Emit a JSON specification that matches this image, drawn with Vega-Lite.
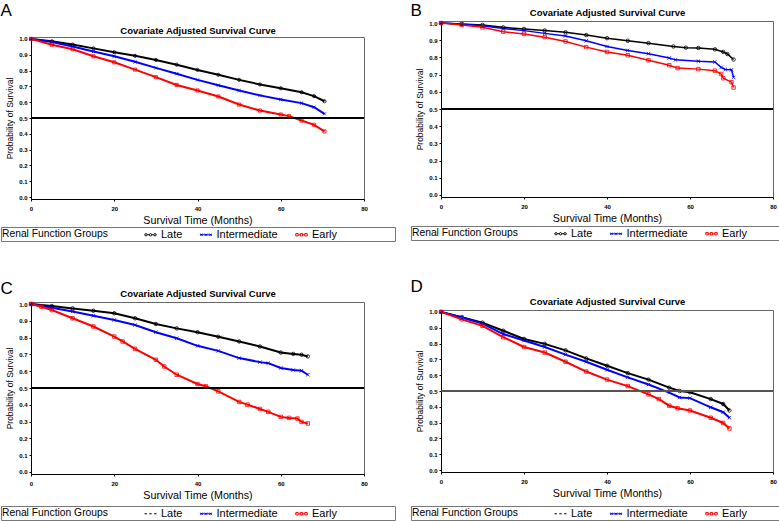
{
"$schema": "https://vega.github.io/schema/vega-lite/v6.json",
"padding": 0,
"background": "white",
"config": {
  "font": "Liberation Sans",
  "view": {"stroke": "#666"},
  "axis": {"labelFontSize": 6, "labelFontWeight": "bold", "tickSize": 2, "labelPadding": 2, "titleFontWeight": "normal", "grid": false, "domainColor": "#000", "tickColor": "#000", "labelFlush": false, "labelColor": "#000", "titleColor": "#000", "labelOverlap": false},
  "axisX": {"titleFontSize": 10.7, "labelPadding": 4},
  "axisY": {"titleFontSize": 8.5},
  "legend": {"orient": "none", "direction": "horizontal", "titleOrient": "left", "titleFontSize": 10.3, "titleFontWeight": "normal", "labelFontSize": 11, "padding": 1, "strokeColor": "#777", "fillColor": "#fff", "symbolSize": 144, "symbolStrokeWidth": 1, "symbolOpacity": 1, "columnPadding": 14.5, "titlePadding": 36, "labelOffset": 4, "titleColor": "#000", "labelColor": "#000"},
  "title": {"fontSize": 17, "fontWeight": "normal", "anchor": "start", "color": "#000"}
},
"datasets": {"surv": [
{"p":"A","g":"Late","t":0,"s":1},{"p":"A","g":"Late","t":5,"s":0.985},{"p":"A","g":"Late","t":10,"s":0.964},{"p":"A","g":"Late","t":15,"s":0.94},{"p":"A","g":"Late","t":20,"s":0.916},{"p":"A","g":"Late","t":25,"s":0.893},{"p":"A","g":"Late","t":30,"s":0.867},{"p":"A","g":"Late","t":35,"s":0.837},{"p":"A","g":"Late","t":40,"s":0.804},{"p":"A","g":"Late","t":45,"s":0.773},{"p":"A","g":"Late","t":50,"s":0.741},{"p":"A","g":"Late","t":55,"s":0.712},{"p":"A","g":"Late","t":60,"s":0.688},{"p":"A","g":"Late","t":65,"s":0.663},{"p":"A","g":"Late","t":68,"s":0.638},{"p":"A","g":"Late","t":70.5,"s":0.606},
{"p":"A","g":"Intermediate","t":0,"s":1},{"p":"A","g":"Intermediate","t":5,"s":0.98},{"p":"A","g":"Intermediate","t":10,"s":0.952},{"p":"A","g":"Intermediate","t":15,"s":0.92},{"p":"A","g":"Intermediate","t":20,"s":0.89},{"p":"A","g":"Intermediate","t":25,"s":0.855},{"p":"A","g":"Intermediate","t":30,"s":0.817},{"p":"A","g":"Intermediate","t":35,"s":0.78},{"p":"A","g":"Intermediate","t":40,"s":0.741},{"p":"A","g":"Intermediate","t":45,"s":0.707},{"p":"A","g":"Intermediate","t":50,"s":0.674},{"p":"A","g":"Intermediate","t":55,"s":0.643},{"p":"A","g":"Intermediate","t":60,"s":0.617},{"p":"A","g":"Intermediate","t":65,"s":0.594},{"p":"A","g":"Intermediate","t":68,"s":0.568},{"p":"A","g":"Intermediate","t":70.5,"s":0.526},
{"p":"A","g":"Early","t":0,"s":1},{"p":"A","g":"Early","t":5,"s":0.963},{"p":"A","g":"Early","t":10,"s":0.935},{"p":"A","g":"Early","t":15,"s":0.89},{"p":"A","g":"Early","t":20,"s":0.852},{"p":"A","g":"Early","t":25,"s":0.806},{"p":"A","g":"Early","t":30,"s":0.758},{"p":"A","g":"Early","t":35,"s":0.709},{"p":"A","g":"Early","t":40,"s":0.674},{"p":"A","g":"Early","t":45,"s":0.636},{"p":"A","g":"Early","t":50,"s":0.585},{"p":"A","g":"Early","t":55,"s":0.547},{"p":"A","g":"Early","t":60,"s":0.522},{"p":"A","g":"Early","t":62,"s":0.512},{"p":"A","g":"Early","t":65,"s":0.484},{"p":"A","g":"Early","t":68,"s":0.457},{"p":"A","g":"Early","t":70.5,"s":0.415},
{"p":"B","g":"Late","t":0,"s":1},{"p":"B","g":"Late","t":5,"s":0.995},{"p":"B","g":"Late","t":10,"s":0.989},{"p":"B","g":"Late","t":15,"s":0.975},{"p":"B","g":"Late","t":20,"s":0.966},{"p":"B","g":"Late","t":25,"s":0.957},{"p":"B","g":"Late","t":30,"s":0.946},{"p":"B","g":"Late","t":35,"s":0.93},{"p":"B","g":"Late","t":40,"s":0.912},{"p":"B","g":"Late","t":45,"s":0.897},{"p":"B","g":"Late","t":50,"s":0.883},{"p":"B","g":"Late","t":56,"s":0.864},{"p":"B","g":"Late","t":59,"s":0.857},{"p":"B","g":"Late","t":62,"s":0.855},{"p":"B","g":"Late","t":66,"s":0.847},{"p":"B","g":"Late","t":68,"s":0.832},{"p":"B","g":"Late","t":69,"s":0.82},{"p":"B","g":"Late","t":70.5,"s":0.788},
{"p":"B","g":"Intermediate","t":0,"s":1},{"p":"B","g":"Intermediate","t":5,"s":0.993},{"p":"B","g":"Intermediate","t":10,"s":0.985},{"p":"B","g":"Intermediate","t":15,"s":0.968},{"p":"B","g":"Intermediate","t":20,"s":0.956},{"p":"B","g":"Intermediate","t":25,"s":0.94},{"p":"B","g":"Intermediate","t":30,"s":0.925},{"p":"B","g":"Intermediate","t":35,"s":0.897},{"p":"B","g":"Intermediate","t":40,"s":0.864},{"p":"B","g":"Intermediate","t":45,"s":0.841},{"p":"B","g":"Intermediate","t":50,"s":0.822},{"p":"B","g":"Intermediate","t":55,"s":0.797},{"p":"B","g":"Intermediate","t":56.5,"s":0.786},{"p":"B","g":"Intermediate","t":62,"s":0.778},{"p":"B","g":"Intermediate","t":66,"s":0.774},{"p":"B","g":"Intermediate","t":67.5,"s":0.742},{"p":"B","g":"Intermediate","t":68.5,"s":0.73},{"p":"B","g":"Intermediate","t":70,"s":0.728},{"p":"B","g":"Intermediate","t":70.5,"s":0.684},
{"p":"B","g":"Early","t":0,"s":1},{"p":"B","g":"Early","t":5,"s":0.989},{"p":"B","g":"Early","t":10,"s":0.975},{"p":"B","g":"Early","t":15,"s":0.95},{"p":"B","g":"Early","t":20,"s":0.937},{"p":"B","g":"Early","t":25,"s":0.918},{"p":"B","g":"Early","t":30,"s":0.893},{"p":"B","g":"Early","t":35,"s":0.86},{"p":"B","g":"Early","t":40,"s":0.832},{"p":"B","g":"Early","t":45,"s":0.813},{"p":"B","g":"Early","t":50,"s":0.784},{"p":"B","g":"Early","t":55,"s":0.755},{"p":"B","g":"Early","t":57,"s":0.738},{"p":"B","g":"Early","t":62,"s":0.732},{"p":"B","g":"Early","t":66,"s":0.723},{"p":"B","g":"Early","t":67.5,"s":0.704},{"p":"B","g":"Early","t":68,"s":0.679},{"p":"B","g":"Early","t":70,"s":0.656},{"p":"B","g":"Early","t":70.5,"s":0.625},
{"p":"C","g":"Late","t":0,"s":1},{"p":"C","g":"Late","t":5,"s":0.988},{"p":"C","g":"Late","t":10,"s":0.974},{"p":"C","g":"Late","t":15,"s":0.96},{"p":"C","g":"Late","t":20,"s":0.945},{"p":"C","g":"Late","t":25,"s":0.915},{"p":"C","g":"Late","t":30,"s":0.881},{"p":"C","g":"Late","t":35,"s":0.855},{"p":"C","g":"Late","t":40,"s":0.832},{"p":"C","g":"Late","t":45,"s":0.805},{"p":"C","g":"Late","t":50,"s":0.777},{"p":"C","g":"Late","t":55,"s":0.747},{"p":"C","g":"Late","t":60,"s":0.711},{"p":"C","g":"Late","t":63,"s":0.703},{"p":"C","g":"Late","t":65,"s":0.698},{"p":"C","g":"Late","t":66.5,"s":0.688},
{"p":"C","g":"Intermediate","t":0,"s":1},{"p":"C","g":"Intermediate","t":5,"s":0.978},{"p":"C","g":"Intermediate","t":10,"s":0.955},{"p":"C","g":"Intermediate","t":15,"s":0.93},{"p":"C","g":"Intermediate","t":20,"s":0.905},{"p":"C","g":"Intermediate","t":25,"s":0.875},{"p":"C","g":"Intermediate","t":30,"s":0.832},{"p":"C","g":"Intermediate","t":35,"s":0.796},{"p":"C","g":"Intermediate","t":40,"s":0.751},{"p":"C","g":"Intermediate","t":45,"s":0.721},{"p":"C","g":"Intermediate","t":50,"s":0.678},{"p":"C","g":"Intermediate","t":55,"s":0.654},{"p":"C","g":"Intermediate","t":57,"s":0.648},{"p":"C","g":"Intermediate","t":60,"s":0.619},{"p":"C","g":"Intermediate","t":63,"s":0.607},{"p":"C","g":"Intermediate","t":65,"s":0.603},{"p":"C","g":"Intermediate","t":66.5,"s":0.579},
{"p":"C","g":"Early","t":0,"s":1},{"p":"C","g":"Early","t":2.5,"s":0.984},{"p":"C","g":"Early","t":5,"s":0.964},{"p":"C","g":"Early","t":10,"s":0.915},{"p":"C","g":"Early","t":15,"s":0.866},{"p":"C","g":"Early","t":20,"s":0.806},{"p":"C","g":"Early","t":22,"s":0.777},{"p":"C","g":"Early","t":25,"s":0.733},{"p":"C","g":"Early","t":30,"s":0.668},{"p":"C","g":"Early","t":32,"s":0.628},{"p":"C","g":"Early","t":35,"s":0.579},{"p":"C","g":"Early","t":40,"s":0.524},{"p":"C","g":"Early","t":42,"s":0.51},{"p":"C","g":"Early","t":45,"s":0.48},{"p":"C","g":"Early","t":50,"s":0.417},{"p":"C","g":"Early","t":52,"s":0.401},{"p":"C","g":"Early","t":55,"s":0.375},{"p":"C","g":"Early","t":57,"s":0.358},{"p":"C","g":"Early","t":60,"s":0.328},{"p":"C","g":"Early","t":62,"s":0.322},{"p":"C","g":"Early","t":64,"s":0.318},{"p":"C","g":"Early","t":65,"s":0.298},{"p":"C","g":"Early","t":66.5,"s":0.289},
{"p":"D","g":"Late","t":0,"s":1},{"p":"D","g":"Late","t":5,"s":0.967},{"p":"D","g":"Late","t":10,"s":0.932},{"p":"D","g":"Late","t":15,"s":0.881},{"p":"D","g":"Late","t":20,"s":0.829},{"p":"D","g":"Late","t":25,"s":0.798},{"p":"D","g":"Late","t":30,"s":0.757},{"p":"D","g":"Late","t":35,"s":0.706},{"p":"D","g":"Late","t":40,"s":0.66},{"p":"D","g":"Late","t":45,"s":0.613},{"p":"D","g":"Late","t":50,"s":0.572},{"p":"D","g":"Late","t":55,"s":0.521},{"p":"D","g":"Late","t":57.5,"s":0.5},{"p":"D","g":"Late","t":60,"s":0.492},{"p":"D","g":"Late","t":65,"s":0.449},{"p":"D","g":"Late","t":68,"s":0.418},{"p":"D","g":"Late","t":69.5,"s":0.377},
{"p":"D","g":"Intermediate","t":0,"s":1},{"p":"D","g":"Intermediate","t":5,"s":0.965},{"p":"D","g":"Intermediate","t":10,"s":0.926},{"p":"D","g":"Intermediate","t":15,"s":0.86},{"p":"D","g":"Intermediate","t":20,"s":0.819},{"p":"D","g":"Intermediate","t":25,"s":0.778},{"p":"D","g":"Intermediate","t":30,"s":0.73},{"p":"D","g":"Intermediate","t":35,"s":0.685},{"p":"D","g":"Intermediate","t":40,"s":0.634},{"p":"D","g":"Intermediate","t":45,"s":0.586},{"p":"D","g":"Intermediate","t":50,"s":0.541},{"p":"D","g":"Intermediate","t":55,"s":0.49},{"p":"D","g":"Intermediate","t":57.5,"s":0.459},{"p":"D","g":"Intermediate","t":60,"s":0.455},{"p":"D","g":"Intermediate","t":65,"s":0.397},{"p":"D","g":"Intermediate","t":68,"s":0.366},{"p":"D","g":"Intermediate","t":69.5,"s":0.331},
{"p":"D","g":"Early","t":0,"s":1},{"p":"D","g":"Early","t":5,"s":0.953},{"p":"D","g":"Early","t":10,"s":0.912},{"p":"D","g":"Early","t":15,"s":0.84},{"p":"D","g":"Early","t":20,"s":0.778},{"p":"D","g":"Early","t":25,"s":0.743},{"p":"D","g":"Early","t":30,"s":0.685},{"p":"D","g":"Early","t":35,"s":0.623},{"p":"D","g":"Early","t":40,"s":0.572},{"p":"D","g":"Early","t":45,"s":0.531},{"p":"D","g":"Early","t":50,"s":0.479},{"p":"D","g":"Early","t":52.5,"s":0.449},{"p":"D","g":"Early","t":55,"s":0.407},{"p":"D","g":"Early","t":57,"s":0.391},{"p":"D","g":"Early","t":60,"s":0.377},{"p":"D","g":"Early","t":65,"s":0.331},{"p":"D","g":"Early","t":68,"s":0.298},{"p":"D","g":"Early","t":69.5,"s":0.263}
]},
"spacing": 14,
"resolve": {"scale": {"color": "independent", "shape": "independent"}, "legend": {"color": "independent", "shape": "independent"}},
"hconcat": [
 {"spacing": 0, "resolve": {"scale": {"color": "independent", "shape": "independent"}, "legend": {"color": "independent", "shape": "independent"}},
  "vconcat": [
  {"width": 1, "height": 1, "data": {"values": []}, "mark": {"type": "point", "opacity": 0}},
  {"vconcat": [
  {"title": {"text": "A", "offset": 5.5},
   "width": 333, "height": 162,
   "data": {"name": "surv"},
   "transform": [{"filter": "datum.p === 'A'"}],
   "resolve": {"axis": {"x": "independent"}, "scale": {"shape": "independent", "color": "independent"}},
   "layer": [
    {"mark": {"type": "line", "strokeWidth": 2},
     "encoding": {
      "x": {"field": "t", "type": "quantitative", "scale": {"domain": [0, 80], "nice": false}, "axis": {"orient": "bottom", "values": [0, 20, 40, 60, 80], "format": "d", "title": "Survival Time (Months)", "titlePadding": 4, "labelOverlap": false}},
      "y": {"field": "s", "type": "quantitative", "scale": {"domain": [-0.012, 1.012], "nice": false, "zero": false}, "axis": {"values": [0, 0.1, 0.2, 0.3, 0.4, 0.5, 0.6, 0.7, 0.8, 0.9, 1], "tickCount": 11, "format": ".1f", "title": "Probability of Survival", "titlePadding": 4, "labelOverlap": false}},
      "color": {"field": "g", "type": "nominal", "sort": null, "legend": null, "scale": {"domain": ["Late", "Intermediate", "Early"], "range": ["#000000", "#0000ff", "#ff0000"]}}
     }},
    {"mark": {"type": "point", "size": 10, "strokeWidth": 0.8, "filled": false, "opacity": 1},
     "encoding": {
      "x": {"field": "t", "type": "quantitative", "axis": {"orient": "top", "title": "Covariate Adjusted Survival Curve", "labels": false, "ticks": false, "domain": false, "titleFontSize": 9.5, "titleFontWeight": "bold", "titlePadding": 2}},
      "y": {"field": "s", "type": "quantitative", "axis": {"values": [0, 0.1, 0.2, 0.3, 0.4, 0.5, 0.6, 0.7, 0.8, 0.9, 1], "tickCount": 11, "format": ".1f", "title": "Probability of Survival", "titlePadding": 4, "labelOverlap": false}},
      "color": {"field": "g", "type": "nominal", "sort": null, "legend": null, "scale": {"domain": ["Late", "Intermediate", "Early"], "range": ["#000000", "#0000ff", "#ff0000"]}},
      "shape": {"field": "g", "type": "nominal", "legend": null, "scale": {"domain": ["Late", "Intermediate", "Early"], "range": ["circle", "M-1,-1L1,1M-1,1L1,-1", "square"]}}
     }},
    {"mark": {"type": "rule", "color": "#000", "strokeWidth": 1}, "encoding": {"y": {"datum": 0.5, "type": "quantitative", "axis": {"values": [0, 0.1, 0.2, 0.3, 0.4, 0.5, 0.6, 0.7, 0.8, 0.9, 1], "tickCount": 11, "format": ".1f", "title": "Probability of Survival", "titlePadding": 4, "labelOverlap": false}}}},
    {"mark": {"type": "point", "size": 10, "filled": false, "opacity": 0},
     "encoding": {
      "x": {"field": "t", "type": "quantitative", "axis": null},
      "y": {"field": "s", "type": "quantitative", "axis": {"values": [0, 0.1, 0.2, 0.3, 0.4, 0.5, 0.6, 0.7, 0.8, 0.9, 1], "tickCount": 11, "format": ".1f", "title": "Probability of Survival", "titlePadding": 4, "labelOverlap": false}},
      "color": {"field": "g", "type": "nominal", "sort": null, "scale": {"domain": ["Late", "Intermediate", "Early"], "range": ["#000000", "#0000ff", "#ff0000"]}, "legend": {"title": "Renal Function Groups", "legendX": -30, "legendY": 190, "labelExpr": "datum.label == 'Early' ? 'Early\u2800\u2800\u2800\u2800\u2800\u2800\u2800' : datum.label"}},
      "shape": {"field": "g", "type": "nominal", "legend": {"title": "Renal Function Groups", "legendX": -30, "legendY": 190, "labelExpr": "datum.label == 'Early' ? 'Early\u2800\u2800\u2800\u2800\u2800\u2800\u2800' : datum.label"}, "scale": {"domain": ["Late", "Intermediate", "Early"], "range": ["M-1,0H-0.95M-0.55,0H-0.2M0.2,0H0.55M0.95,0H1M-0.55,0A0.2,0.2,0,1,0,-0.95,0A0.2,0.2,0,1,0,-0.55,0ZM0.2,0A0.2,0.2,0,1,0,-0.2,0A0.2,0.2,0,1,0,0.2,0ZM0.95,0A0.2,0.2,0,1,0,0.55,0A0.2,0.2,0,1,0,0.95,0Z", "M-1,0H1M-0.93,-0.18L-0.57,0.18M-0.93,0.18L-0.57,-0.18M-0.18,-0.18L0.18,0.18M-0.18,0.18L0.18,-0.18M0.57,-0.18L0.93,0.18M0.57,0.18L0.93,-0.18", "M-1,0H-0.95M-0.55,0H-0.2M0.2,0H0.55M0.95,0H1M-0.95,-0.2H-0.55V0.2H-0.95ZM-0.2,-0.2H0.2V0.2H-0.2ZM0.55,-0.2H0.95V0.2H0.55Z"]}}
     }}
   ]},
  {"title": {"text": "C", "offset": -10},
   "width": 333, "height": 172,
   "data": {"name": "surv"},
   "transform": [{"filter": "datum.p === 'C'"}],
   "resolve": {"axis": {"x": "independent"}, "scale": {"shape": "independent", "color": "independent"}},
   "layer": [
    {"mark": {"type": "line", "strokeWidth": 2},
     "encoding": {
      "x": {"field": "t", "type": "quantitative", "scale": {"domain": [0, 80], "nice": false}, "axis": {"orient": "bottom", "values": [0, 20, 40, 60, 80], "format": "d", "title": "Survival Time (Months)", "titlePadding": 4, "labelOverlap": false}},
      "y": {"field": "s", "type": "quantitative", "scale": {"domain": [-0.012, 1.012], "nice": false, "zero": false}, "axis": {"values": [0, 0.1, 0.2, 0.3, 0.4, 0.5, 0.6, 0.7, 0.8, 0.9, 1], "tickCount": 11, "format": ".1f", "title": "Probability of Survival", "titlePadding": 4, "labelOverlap": false}},
      "color": {"field": "g", "type": "nominal", "sort": null, "legend": null, "scale": {"domain": ["Late", "Intermediate", "Early"], "range": ["#000000", "#0000ff", "#ff0000"]}}
     }},
    {"mark": {"type": "point", "size": 12, "strokeWidth": 0.8, "filled": false, "opacity": 1},
     "encoding": {
      "x": {"field": "t", "type": "quantitative", "axis": {"orient": "top", "title": "Covariate Adjusted Survival Curve", "labels": false, "ticks": false, "domain": false, "titleFontSize": 9.5, "titleFontWeight": "bold", "titlePadding": 4}},
      "y": {"field": "s", "type": "quantitative", "axis": {"values": [0, 0.1, 0.2, 0.3, 0.4, 0.5, 0.6, 0.7, 0.8, 0.9, 1], "tickCount": 11, "format": ".1f", "title": "Probability of Survival", "titlePadding": 4, "labelOverlap": false}},
      "color": {"field": "g", "type": "nominal", "sort": null, "legend": null, "scale": {"domain": ["Late", "Intermediate", "Early"], "range": ["#000000", "#0000ff", "#ff0000"]}},
      "shape": {"field": "g", "type": "nominal", "legend": null, "scale": {"domain": ["Late", "Intermediate", "Early"], "range": ["circle", "M-1,-1L1,1M-1,1L1,-1", "square"]}}
     }},
    {"mark": {"type": "rule", "color": "#000", "strokeWidth": 1}, "encoding": {"y": {"datum": 0.5, "type": "quantitative", "axis": {"values": [0, 0.1, 0.2, 0.3, 0.4, 0.5, 0.6, 0.7, 0.8, 0.9, 1], "tickCount": 11, "format": ".1f", "title": "Probability of Survival", "titlePadding": 4, "labelOverlap": false}}}},
    {"mark": {"type": "point", "size": 10, "filled": false, "opacity": 0},
     "encoding": {
      "x": {"field": "t", "type": "quantitative", "axis": null},
      "y": {"field": "s", "type": "quantitative", "axis": {"values": [0, 0.1, 0.2, 0.3, 0.4, 0.5, 0.6, 0.7, 0.8, 0.9, 1], "tickCount": 11, "format": ".1f", "title": "Probability of Survival", "titlePadding": 4, "labelOverlap": false}},
      "color": {"field": "g", "type": "nominal", "sort": null, "scale": {"domain": ["Late", "Intermediate", "Early"], "range": ["#000000", "#0000ff", "#ff0000"]}, "legend": {"title": "Renal Function Groups", "legendX": -30, "legendY": 204, "labelExpr": "datum.label == 'Early' ? 'Early\u2800\u2800\u2800\u2800\u2800\u2800\u2800' : datum.label"}},
      "shape": {"field": "g", "type": "nominal", "legend": {"title": "Renal Function Groups", "legendX": -30, "legendY": 204, "labelExpr": "datum.label == 'Early' ? 'Early\u2800\u2800\u2800\u2800\u2800\u2800\u2800' : datum.label"}, "scale": {"domain": ["Late", "Intermediate", "Early"], "range": ["M-1,0H-0.6M-0.2,0H0.2M0.6,0H1", "M-1,0H1M-0.93,-0.18L-0.57,0.18M-0.93,0.18L-0.57,-0.18M-0.18,-0.18L0.18,0.18M-0.18,0.18L0.18,-0.18M0.57,-0.18L0.93,0.18M0.57,0.18L0.93,-0.18", "M-1,0H-0.95M-0.55,0H-0.2M0.2,0H0.55M0.95,0H1M-0.95,-0.2H-0.55V0.2H-0.95ZM-0.2,-0.2H0.2V0.2H-0.2ZM0.55,-0.2H0.95V0.2H0.55Z"]}}
     }}
   ]}
  ], "spacing": 37, "resolve": {"scale": {"color": "independent", "shape": "independent"}, "legend": {"color": "independent", "shape": "independent"}}}
 ]},
 {"spacing": 0, "resolve": {"scale": {"color": "independent", "shape": "independent"}, "legend": {"color": "independent", "shape": "independent"}},
  "vconcat": [
  {"width": 1, "height": 1, "data": {"values": []}, "mark": {"type": "point", "opacity": 0}},
  {"vconcat": [
  {"title": {"text": "B", "offset": -13},
   "width": 332, "height": 176,
   "data": {"name": "surv"},
   "transform": [{"filter": "datum.p === 'B'"}],
   "resolve": {"axis": {"x": "independent"}, "scale": {"shape": "independent", "color": "independent"}},
   "layer": [
    {"mark": {"type": "line", "strokeWidth": 1.5},
     "encoding": {
      "x": {"field": "t", "type": "quantitative", "scale": {"domain": [0, 80], "nice": false}, "axis": {"orient": "bottom", "values": [0, 20, 40, 60, 80], "format": "d", "title": "Survival Time (Months)", "titlePadding": 4, "labelOverlap": false}},
      "y": {"field": "s", "type": "quantitative", "scale": {"domain": [-0.012, 1.012], "nice": false, "zero": false}, "axis": {"values": [0, 0.1, 0.2, 0.3, 0.4, 0.5, 0.6, 0.7, 0.8, 0.9, 1], "tickCount": 11, "format": ".1f", "title": "Probability of Survival", "titlePadding": 4, "labelOverlap": false}},
      "color": {"field": "g", "type": "nominal", "sort": null, "legend": null, "scale": {"domain": ["Late", "Intermediate", "Early"], "range": ["#000000", "#0000ff", "#ff0000"]}}
     }},
    {"mark": {"type": "point", "size": 12, "strokeWidth": 0.8, "filled": false, "opacity": 1},
     "encoding": {
      "x": {"field": "t", "type": "quantitative", "axis": {"orient": "top", "title": "Covariate Adjusted Survival Curve", "labels": false, "ticks": false, "domain": false, "titleFontSize": 9.5, "titleFontWeight": "bold", "titlePadding": 4}},
      "y": {"field": "s", "type": "quantitative", "axis": {"values": [0, 0.1, 0.2, 0.3, 0.4, 0.5, 0.6, 0.7, 0.8, 0.9, 1], "tickCount": 11, "format": ".1f", "title": "Probability of Survival", "titlePadding": 4, "labelOverlap": false}},
      "color": {"field": "g", "type": "nominal", "sort": null, "legend": null, "scale": {"domain": ["Late", "Intermediate", "Early"], "range": ["#000000", "#0000ff", "#ff0000"]}},
      "shape": {"field": "g", "type": "nominal", "legend": null, "scale": {"domain": ["Late", "Intermediate", "Early"], "range": ["circle", "M-1,-1L1,1M-1,1L1,-1", "square"]}}
     }},
    {"mark": {"type": "rule", "color": "#000", "strokeWidth": 1.2}, "encoding": {"y": {"datum": 0.5, "type": "quantitative", "axis": {"values": [0, 0.1, 0.2, 0.3, 0.4, 0.5, 0.6, 0.7, 0.8, 0.9, 1], "tickCount": 11, "format": ".1f", "title": "Probability of Survival", "titlePadding": 4, "labelOverlap": false}}}},
    {"mark": {"type": "point", "size": 10, "filled": false, "opacity": 0},
     "encoding": {
      "x": {"field": "t", "type": "quantitative", "axis": null},
      "y": {"field": "s", "type": "quantitative", "axis": {"values": [0, 0.1, 0.2, 0.3, 0.4, 0.5, 0.6, 0.7, 0.8, 0.9, 1], "tickCount": 11, "format": ".1f", "title": "Probability of Survival", "titlePadding": 4, "labelOverlap": false}},
      "color": {"field": "g", "type": "nominal", "sort": null, "scale": {"domain": ["Late", "Intermediate", "Early"], "range": ["#000000", "#0000ff", "#ff0000"]}, "legend": {"title": "Renal Function Groups", "legendX": -30, "legendY": 205, "labelExpr": "datum.label == 'Early' ? 'Early\u2800\u2800\u2800\u2800\u2800\u2800\u2800' : datum.label"}},
      "shape": {"field": "g", "type": "nominal", "legend": {"title": "Renal Function Groups", "legendX": -30, "legendY": 205, "labelExpr": "datum.label == 'Early' ? 'Early\u2800\u2800\u2800\u2800\u2800\u2800\u2800' : datum.label"}, "scale": {"domain": ["Late", "Intermediate", "Early"], "range": ["M-1,0H-0.95M-0.55,0H-0.2M0.2,0H0.55M0.95,0H1M-0.55,0A0.2,0.2,0,1,0,-0.95,0A0.2,0.2,0,1,0,-0.55,0ZM0.2,0A0.2,0.2,0,1,0,-0.2,0A0.2,0.2,0,1,0,0.2,0ZM0.95,0A0.2,0.2,0,1,0,0.55,0A0.2,0.2,0,1,0,0.95,0Z", "M-1,0H1M-0.93,-0.18L-0.57,0.18M-0.93,0.18L-0.57,-0.18M-0.18,-0.18L0.18,0.18M-0.18,0.18L0.18,-0.18M0.57,-0.18L0.93,0.18M0.57,0.18L0.93,-0.18", "M-1,0H-0.95M-0.55,0H-0.2M0.2,0H0.55M0.95,0H1M-0.95,-0.2H-0.55V0.2H-0.95ZM-0.2,-0.2H0.2V0.2H-0.2ZM0.55,-0.2H0.95V0.2H0.55Z"]}}
     }}
   ]},
  {"title": {"text": "D", "offset": 0},
   "width": 332, "height": 162,
   "data": {"name": "surv"},
   "transform": [{"filter": "datum.p === 'D'"}],
   "resolve": {"axis": {"x": "independent"}, "scale": {"shape": "independent", "color": "independent"}},
   "layer": [
    {"mark": {"type": "line", "strokeWidth": 2},
     "encoding": {
      "x": {"field": "t", "type": "quantitative", "scale": {"domain": [0, 80], "nice": false}, "axis": {"orient": "bottom", "values": [0, 20, 40, 60, 80], "format": "d", "title": "Survival Time (Months)", "titlePadding": 4, "labelOverlap": false}},
      "y": {"field": "s", "type": "quantitative", "scale": {"domain": [-0.012, 1.012], "nice": false, "zero": false}, "axis": {"values": [0, 0.1, 0.2, 0.3, 0.4, 0.5, 0.6, 0.7, 0.8, 0.9, 1], "tickCount": 11, "format": ".1f", "title": "Probability of Survival", "titlePadding": 4, "labelOverlap": false}},
      "color": {"field": "g", "type": "nominal", "sort": null, "legend": null, "scale": {"domain": ["Late", "Intermediate", "Early"], "range": ["#000000", "#0000ff", "#ff0000"]}}
     }},
    {"mark": {"type": "point", "size": 12, "strokeWidth": 0.8, "filled": false, "opacity": 1},
     "encoding": {
      "x": {"field": "t", "type": "quantitative", "axis": {"orient": "top", "title": "Covariate Adjusted Survival Curve", "labels": false, "ticks": false, "domain": false, "titleFontSize": 9.5, "titleFontWeight": "bold", "titlePadding": 4}},
      "y": {"field": "s", "type": "quantitative", "axis": {"values": [0, 0.1, 0.2, 0.3, 0.4, 0.5, 0.6, 0.7, 0.8, 0.9, 1], "tickCount": 11, "format": ".1f", "title": "Probability of Survival", "titlePadding": 4, "labelOverlap": false}},
      "color": {"field": "g", "type": "nominal", "sort": null, "legend": null, "scale": {"domain": ["Late", "Intermediate", "Early"], "range": ["#000000", "#0000ff", "#ff0000"]}},
      "shape": {"field": "g", "type": "nominal", "legend": null, "scale": {"domain": ["Late", "Intermediate", "Early"], "range": ["circle", "M-1,-1L1,1M-1,1L1,-1", "square"]}}
     }},
    {"mark": {"type": "rule", "color": "#555", "strokeWidth": 1}, "encoding": {"y": {"datum": 0.5, "type": "quantitative", "axis": {"values": [0, 0.1, 0.2, 0.3, 0.4, 0.5, 0.6, 0.7, 0.8, 0.9, 1], "tickCount": 11, "format": ".1f", "title": "Probability of Survival", "titlePadding": 4, "labelOverlap": false}}}},
    {"mark": {"type": "point", "size": 10, "filled": false, "opacity": 0},
     "encoding": {
      "x": {"field": "t", "type": "quantitative", "axis": null},
      "y": {"field": "s", "type": "quantitative", "axis": {"values": [0, 0.1, 0.2, 0.3, 0.4, 0.5, 0.6, 0.7, 0.8, 0.9, 1], "tickCount": 11, "format": ".1f", "title": "Probability of Survival", "titlePadding": 4, "labelOverlap": false}},
      "color": {"field": "g", "type": "nominal", "sort": null, "scale": {"domain": ["Late", "Intermediate", "Early"], "range": ["#000000", "#0000ff", "#ff0000"]}, "legend": {"title": "Renal Function Groups", "legendX": -30, "legendY": 196, "labelExpr": "datum.label == 'Early' ? 'Early\u2800\u2800\u2800\u2800\u2800\u2800\u2800' : datum.label"}},
      "shape": {"field": "g", "type": "nominal", "legend": {"title": "Renal Function Groups", "legendX": -30, "legendY": 196, "labelExpr": "datum.label == 'Early' ? 'Early\u2800\u2800\u2800\u2800\u2800\u2800\u2800' : datum.label"}, "scale": {"domain": ["Late", "Intermediate", "Early"], "range": ["M-1,0H-0.6M-0.2,0H0.2M0.6,0H1", "M-1,0H1M-0.93,-0.18L-0.57,0.18M-0.93,0.18L-0.57,-0.18M-0.18,-0.18L0.18,0.18M-0.18,0.18L0.18,-0.18M0.57,-0.18L0.93,0.18M0.57,0.18L0.93,-0.18", "M-1,0H-0.95M-0.55,0H-0.2M0.2,0H0.55M0.95,0H1M-0.95,-0.2H-0.55V0.2H-0.95ZM-0.2,-0.2H0.2V0.2H-0.2ZM0.55,-0.2H0.95V0.2H0.55Z"]}}
     }}
   ]}
  ], "spacing": 36, "resolve": {"scale": {"color": "independent", "shape": "independent"}, "legend": {"color": "independent", "shape": "independent"}}}
 ]}
]
}
